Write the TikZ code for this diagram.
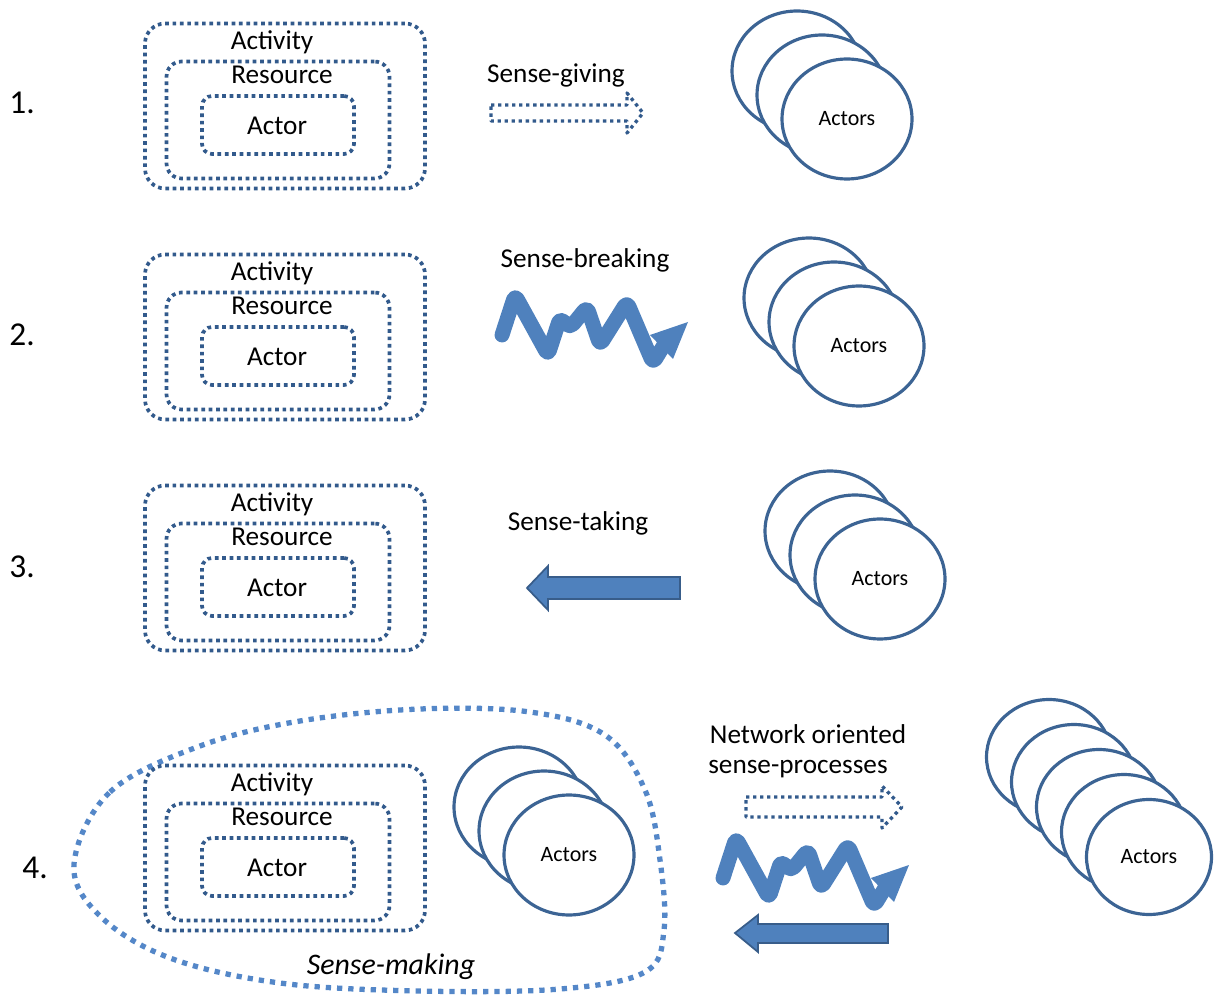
\documentclass[tikz,border=0pt]{standalone}
\usepackage{fontspec}
\setmainfont{Carlito}
\usetikzlibrary{shapes.geometric}
\definecolor{boxblue}{RGB}{50,90,140}
\definecolor{ringblue}{RGB}{60,100,148}
\definecolor{arrowblue}{RGB}{79,129,189}
\definecolor{arrowedge}{RGB}{56,93,138}
\definecolor{makeblue}{RGB}{84,135,200}
\tikzset{
  layer/.style={rectangle, draw=boxblue, line width=2.1pt, dash pattern=on 2.1pt off 2.1pt, inner sep=0pt},
  layertext/.style={font=\fontsize{15.5}{18}\selectfont, inner sep=0pt},
  ring/.style={ellipse, draw=ringblue, line width=1.8pt, fill=white, minimum width=2.6cm, minimum height=2.4cm, font=\fontsize{12.5}{14}\selectfont},
  rownum/.style={font=\fontsize{19}{22}\selectfont},
  sensetext/.style={font=\fontsize{15.5}{18}\selectfont, inner sep=0pt},
  dotarrow/.style={draw=boxblue, line width=1.9pt, dash pattern=on 1.9pt off 2.1pt, line join=round},
  fillarrow/.style={fill=arrowblue, draw=arrowedge, line width=1pt},
  zigarrow/.pic={
    \draw[arrowblue, line width=8.5pt, line cap=round, line join=round, rounded corners=3pt] (0,0) -- (13,-40) -- (46,20) -- (58,-17) -- (68,-7) -- (85,-28) -- (98,10) -- (125,-33) -- (151,28) -- (162,10);
    \fill[arrowblue] (186,-13) -- (148,0) -- (171,24) -- cycle;
  }
}
\begin{document}
\begin{tikzpicture}[x=0.02cm, y=-0.02cm]
  \useasboundingbox (0,0) rectangle (1214,996);
  % Sense-making outline
  \draw[makeblue, line width=3pt, dash pattern=on 3pt off 3.4pt] plot[smooth cycle, tension=0.6] coordinates {(74,864) (110,792) (200,746) (300,721) (420,709) (530,712) (605,735) (645,790) (660,860) (664,930) (645,972) (560,989) (420,991) (280,983) (170,958) (100,916)};
  % Nodes
  \foreach \r/\dy in {1/0, 2/231, 3/462, 4/742}{
    \node (act-\r) [layer, rounded corners=0.4cm, minimum width=5.6cm, minimum height=3.3cm] at (285,106+\dy) {};
    \node (res-\r) [layer, rounded corners=0.3cm, minimum width=4.46cm, minimum height=2.34cm] at (278,120+\dy) {};
    \node (actor-\r) [layer, rounded corners=0.2cm, minimum width=3.04cm, minimum height=1.16cm] at (278,125+\dy) {};
    \node (act-\r-t) [layertext] at (272,42+\dy) {Activity};
    \node (res-\r-t) [layertext] at (282,75+\dy) {Resource};
    \node (actor-\r-t) [layertext] at (277,126+\dy) {Actor};
  }
  \node (n-1) [rownum] at (22,103) {1.};
  \node (n-2) [rownum] at (22,335) {2.};
  \node (n-3) [rownum] at (22,567) {3.};
  \node (n-4) [rownum] at (35,868) {4.};

  % Actors
  \foreach \k in {2,1}{
    \node (ring-1-\k) [ring] at (847-25*\k,119-24*\k) {};
    \node (ring-2-\k) [ring] at (859-25*\k,346-24*\k) {};
    \node (ring-3-\k) [ring] at (880-25*\k,579-24*\k) {};
    \node (ring-4-\k) [ring] at (569-25*\k,855-24*\k) {};
  }
  \node (ring-1-0) [ring] at (847,119) {Actors};
  \node (ring-2-0) [ring] at (859,346) {Actors};
  \node (ring-3-0) [ring] at (880,579) {Actors};
  \node (ring-4-0) [ring] at (569,855) {Actors};
  \foreach \k in {4,3,2,1}{
    \node (net-\k) [ring, minimum width=2.5cm, minimum height=2.3cm] at (1149-25*\k,857-25*\k) {};
  }
  \node (net-0) [ring, minimum width=2.5cm, minimum height=2.3cm] at (1149,857) {Actors};

  % Labels
  \node (giving) [sensetext] at (556,75) {Sense-giving};
  \node (breaking) [sensetext] at (585,260) {Sense-breaking};
  \node (taking) [sensetext] at (578,523) {Sense-taking};
  \node (network) [sensetext] at (808,734) {Network oriented};
  \node (processes) [sensetext] at (798,769) {sense-processes};
  \node (making) [sensetext, font=\fontsize{17}{20}\selectfont\itshape] at (391,967) {Sense-making};

  % Arrows
  \draw[dotarrow] (491,105) -- (627,105) -- (627,93) -- (643,113) -- (627,133) -- (627,121) -- (491,121) -- cycle;
  \pic at (502,335) {zigarrow};
  \draw[fillarrow] (680,577) -- (548,577) -- (548,566) -- (527,588) -- (548,610) -- (548,599) -- (680,599) -- cycle;
  \draw[dotarrow] (746,797) -- (882,797) -- (882,786) -- (902,807) -- (882,828) -- (882,817) -- (746,817) -- cycle;
  \pic at (723,878) {zigarrow};
  \draw[fillarrow] (888,924) -- (758,924) -- (758,915) -- (735,933) -- (758,952) -- (758,943) -- (888,943) -- cycle;
\end{tikzpicture}
\end{document}
